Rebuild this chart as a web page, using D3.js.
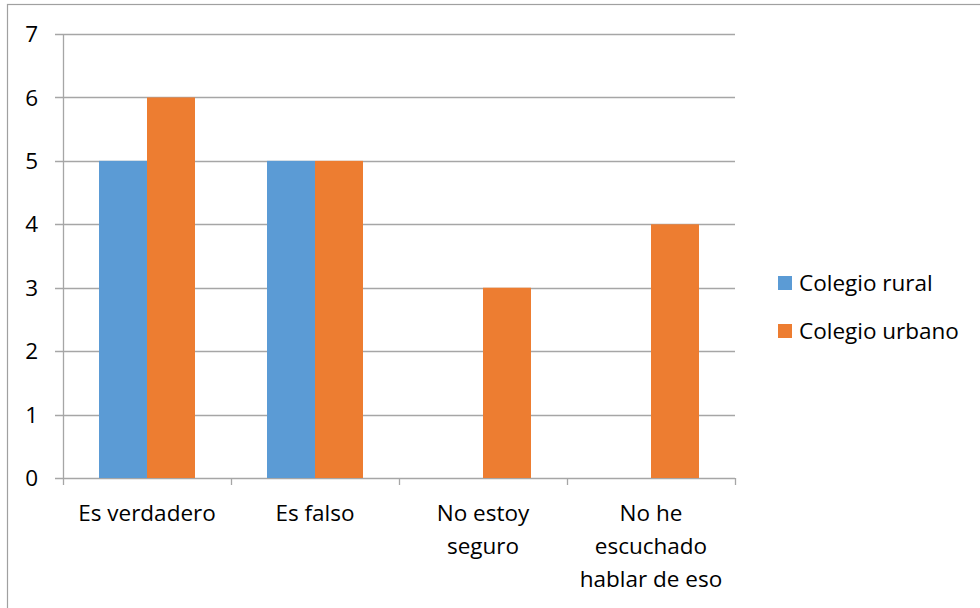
<!DOCTYPE html>
<html>
<head>
<meta charset="utf-8">
<script src="https://cdn.jsdelivr.net/npm/d3@7"></script>
<style>
  body { margin: 0; background: #fff; }
  svg { display: block; font-family: "Open Sans", Lato, sans-serif; }
</style>
</head>
<body>
<div id="app"></div>
<script>
const categories = [
  ['Es verdadero'],
  ['Es falso'],
  ['No estoy', 'seguro'],
  ['No he', 'escuchado', 'hablar de eso']
];
const seriesNames = ['Colegio rural', 'Colegio urbano'];
const seriesColors = ['#5B9BD5', '#ED7D31'];
const rural = [5, 5, 0, 0];
const urbano = [6, 5, 3, 4];
const yTicks = [0, 1, 2, 3, 4, 5, 6, 7];

const width = 980, height = 608;
const plotLeft = 63, plotRight = 735, plotTop = 34, plotBottom = 478;
const fs = 22.5;

const svg = d3.select('#app').append('svg')
  .attr('width', width).attr('height', height);

// outer chart frame
svg.append('rect')
  .attr('x', 7.5).attr('y', 4.5)
  .attr('width', 1000).attr('height', 700)
  .attr('fill', 'none').attr('stroke', '#a0a0a0').attr('stroke-width', 1.2);

const idx = d3.range(categories.length);
const x = d3.scaleBand().domain(idx).range([plotLeft, plotRight]);
const y = d3.scaleLinear().domain([0, 7]).range([plotBottom, plotTop]);

// gridlines
svg.append('g')
  .selectAll('line')
  .data(yTicks)
  .enter().append('line')
  .attr('x1', plotLeft - 8).attr('x2', plotRight)
  .attr('y1', d => Math.round(y(d)) + 0.5).attr('y2', d => Math.round(y(d)) + 0.5)
  .attr('stroke', '#a6a6a6').attr('stroke-width', 1.3);

// y labels
svg.append('g')
  .selectAll('text')
  .data(yTicks)
  .enter().append('text')
  .attr('x', 38).attr('y', d => y(d))
  .attr('dy', '0.36em')
  .attr('text-anchor', 'end')
  .attr('font-size', fs)
  .attr('fill', '#000')
  .text(d => d);

// bars
const barW = 48;
const series = [rural, urbano];
series.forEach((vals, s) => {
  svg.append('g')
    .selectAll('rect')
    .data(vals)
    .enter().append('rect')
    .attr('x', (d, i) => x(i) + x.bandwidth() / 2 - barW + s * barW)
    .attr('width', barW)
    .attr('y', d => y(d))
    .attr('height', d => y(0) - y(d))
    .attr('fill', seriesColors[s]);
});

// y axis line
svg.append('line')
  .attr('x1', plotLeft + 0.5).attr('x2', plotLeft + 0.5)
  .attr('y1', plotTop).attr('y2', plotBottom)
  .attr('stroke', '#a6a6a6').attr('stroke-width', 1.3);

// x axis tick marks
const xTickPos = idx.map(i => x(i)).concat([plotRight]);
svg.append('g')
  .selectAll('line')
  .data(xTickPos)
  .enter().append('line')
  .attr('x1', d => Math.round(d) + 0.5).attr('x2', d => Math.round(d) + 0.5)
  .attr('y1', plotBottom).attr('y2', plotBottom + 7)
  .attr('stroke', '#a6a6a6').attr('stroke-width', 1.3);

// category labels
const lab = svg.append('g')
  .selectAll('text')
  .data(categories)
  .enter().append('text')
  .attr('x', (d, i) => x(i) + x.bandwidth() / 2)
  .attr('y', 521)
  .attr('text-anchor', 'middle')
  .attr('font-size', fs)
  .attr('fill', '#000');
lab.selectAll('tspan')
  .data(d => d)
  .enter().append('tspan')
  .attr('x', function () { return d3.select(this.parentNode).attr('x'); })
  .attr('dy', (d, i) => i === 0 ? 0 : 33)
  .text(d => d);

// legend
const leg = svg.append('g')
  .selectAll('g')
  .data(seriesNames)
  .enter().append('g')
  .attr('transform', (d, i) => `translate(778, ${283 + i * 48})`);
leg.append('rect')
  .attr('x', 0).attr('y', -7)
  .attr('width', 14).attr('height', 14)
  .attr('fill', (d, i) => seriesColors[i]);
leg.append('text')
  .attr('x', 21).attr('y', 0)
  .attr('dy', '0.36em')
  .attr('font-size', fs)
  .attr('fill', '#000')
  .text(d => d);
</script>
</body>
</html>
